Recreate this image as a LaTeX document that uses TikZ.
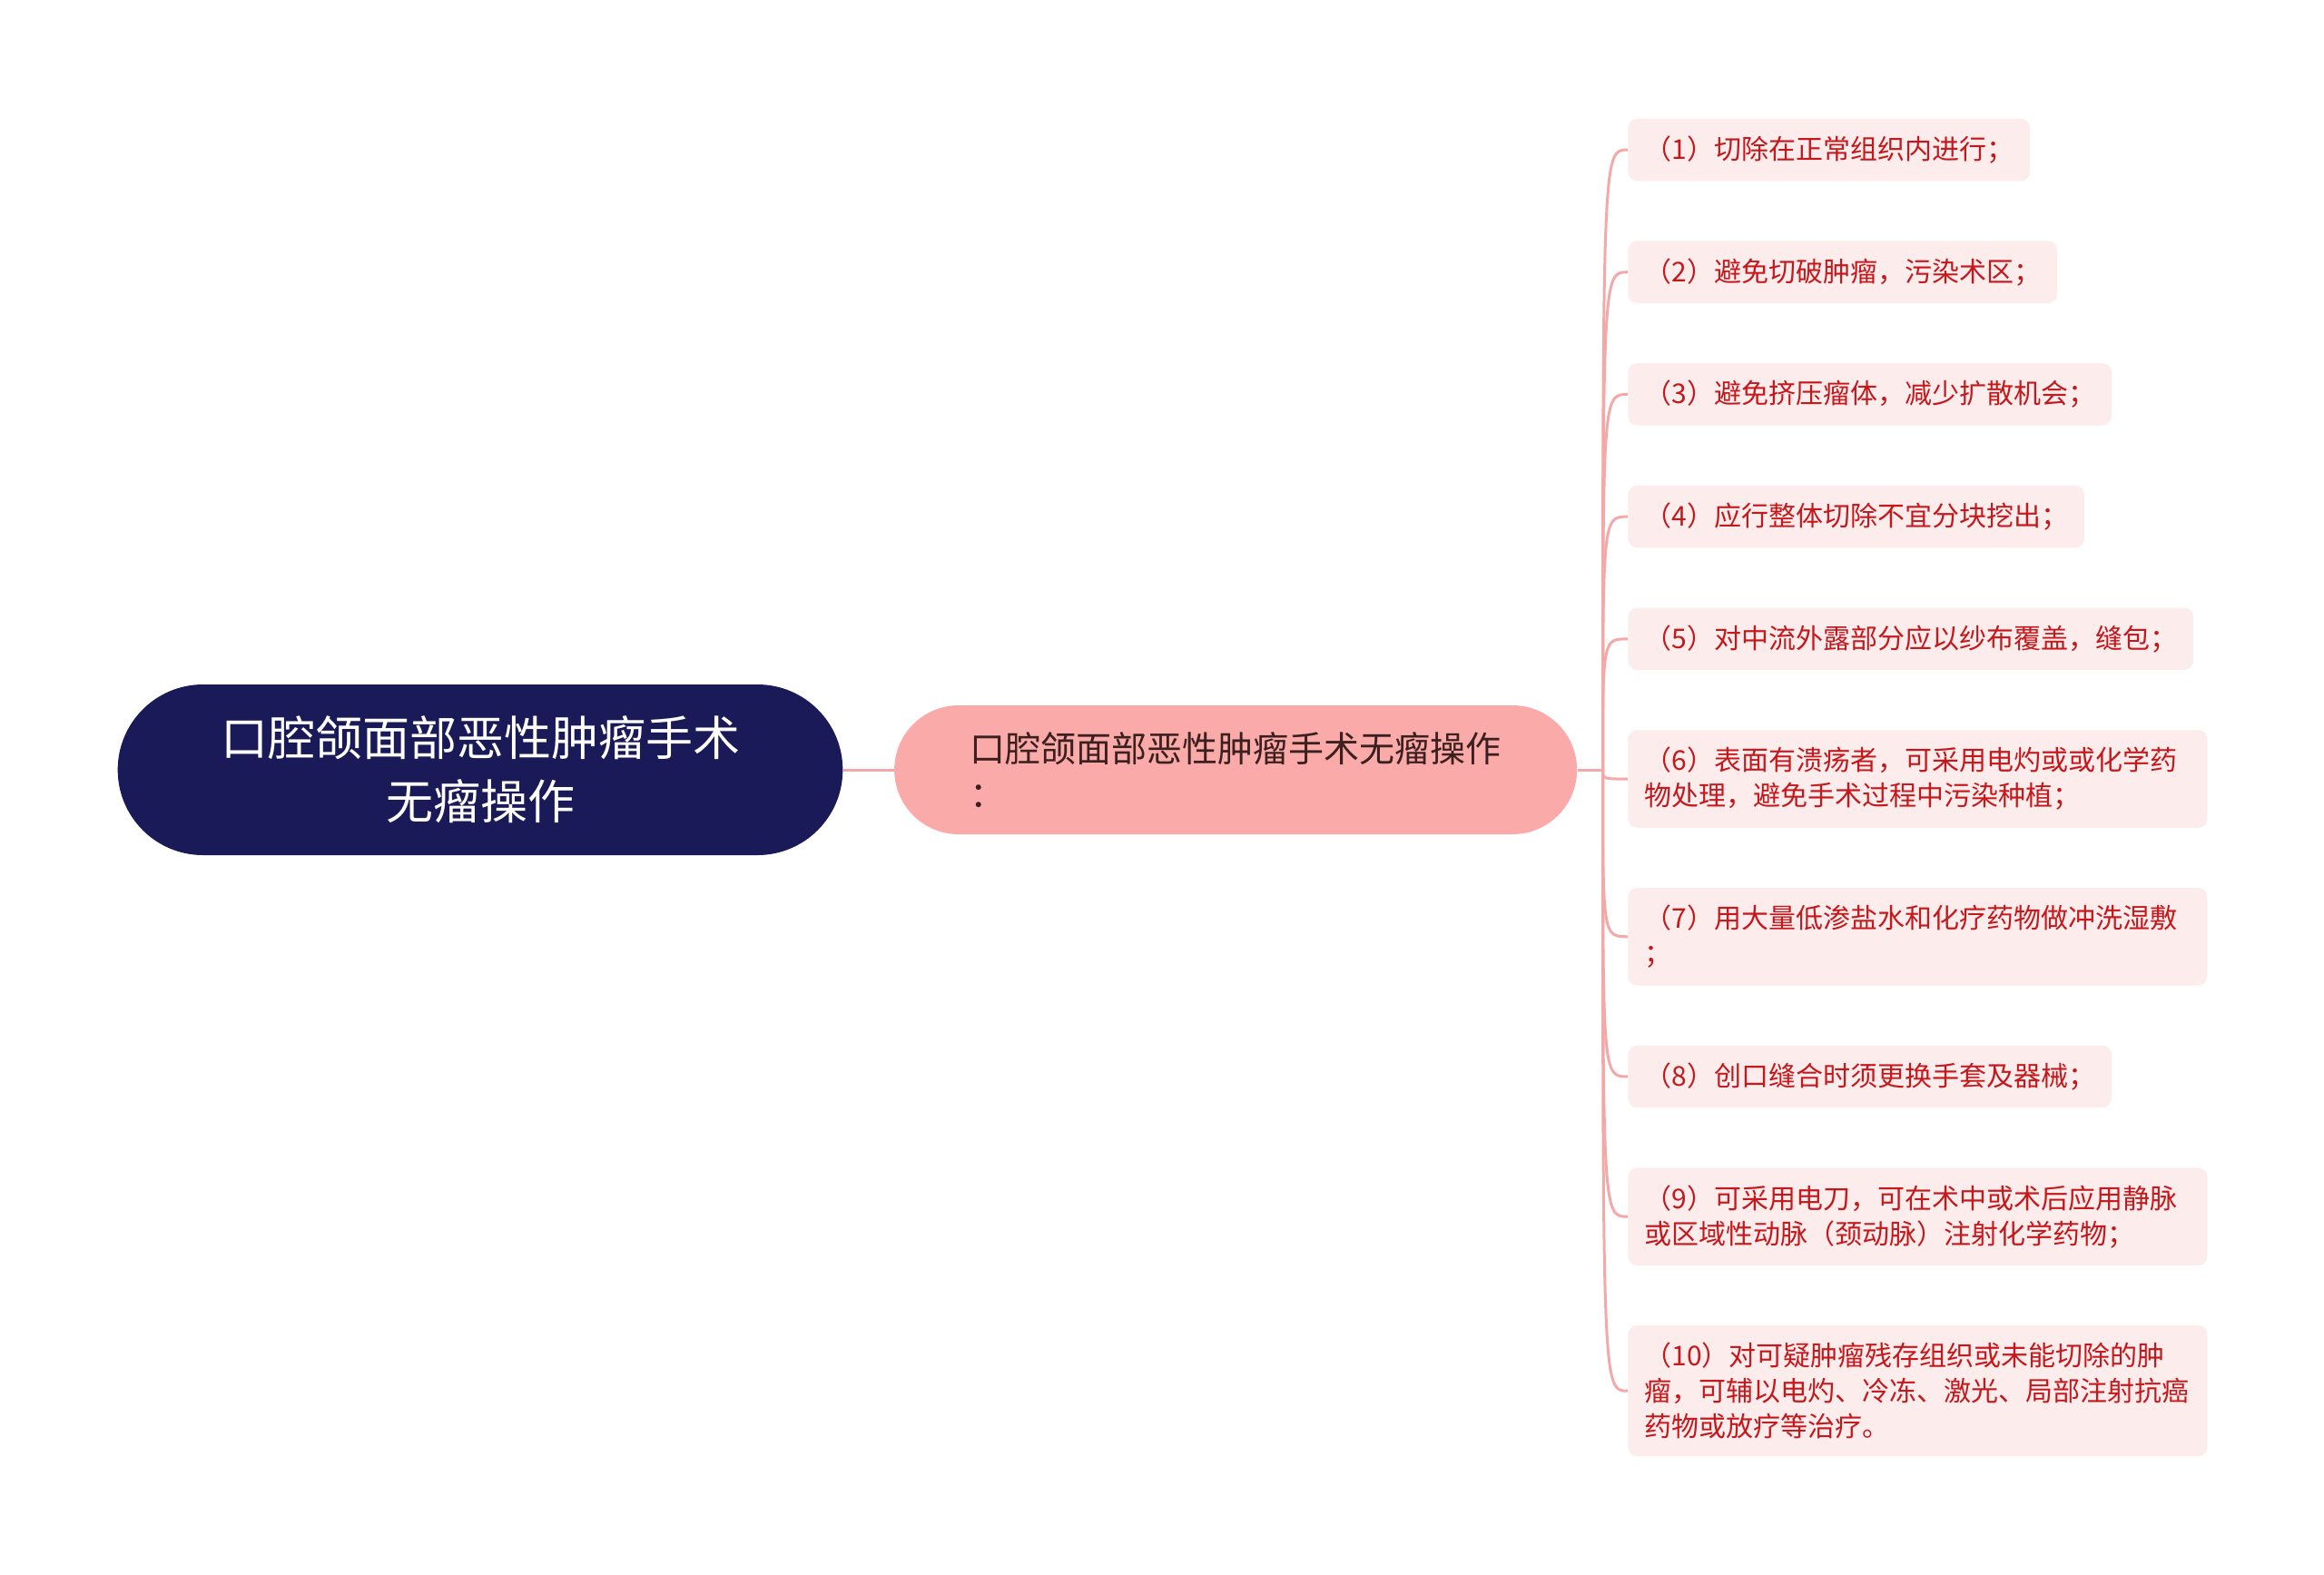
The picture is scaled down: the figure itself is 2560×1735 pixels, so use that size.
\documentclass[tikz,border=0pt]{standalone}
\usepackage{fontspec}
\setmainfont{Noto Sans CJK SC}
\usetikzlibrary{positioning,shapes.misc}

\definecolor{rootblue}{RGB}{27,26,88}
\definecolor{topicpink}{RGB}{250,170,168}
\definecolor{topictext}{RGB}{60,32,32}
\definecolor{leafpink}{RGB}{253,236,236}
\definecolor{leafred}{RGB}{196,24,28}
\definecolor{edgepink}{RGB}{245,168,168}

\tikzset{
  root/.style={rounded rectangle, fill=rootblue, text=white, minimum width=406pt,
    minimum height=94pt, align=center, font=\fontsize{26pt}{35pt}\selectfont},
  topic/.style={rounded rectangle, fill=topicpink, text=topictext, minimum width=376pt,
    minimum height=71pt, inner xsep=0pt, text width=293pt, align=left,
    font=\fontsize{19.5pt}{25pt}\selectfont},
  leaf/.style={rectangle, rounded corners=5pt, fill=leafpink, text=leafred,
    inner xsep=9pt, inner ysep=9.5pt, font=\fontsize{15pt}{19.5pt}\selectfont},
  longleaf/.style={leaf, text width=301pt, align=left},
  edge/.style={draw=edgepink, line width=1.5pt},
}

\begin{document}
\begin{tikzpicture}[x=0.5pt, y=-0.5pt]
    \useasboundingbox (0,0) rectangle (2560,1735);

    % Nodes
    \node[root] (root) at (529,848) {口腔颌面部恶性肿瘤手术\\无瘤操作};
    \node[topic, right=28pt of root] (topic) {口腔颌面部恶性肿瘤手术无瘤操作\\：};
    \coordinate[right=14pt of topic.east] (hub);

    \node[leaf, anchor=west] (L1) at (1793,165) {（1）切除在正常组织内进行；};
    \node[leaf, below=32.7pt of L1.south west, anchor=north west] (L2) {（2）避免切破肿瘤，污染术区；};
    \node[leaf, below=32.7pt of L2.south west, anchor=north west] (L3) {（3）避免挤压瘤体，减少扩散机会；};
    \node[leaf, below=32.7pt of L3.south west, anchor=north west] (L4) {（4）应行整体切除不宜分块挖出；};
    \node[leaf, below=32.7pt of L4.south west, anchor=north west] (L5) {（5）对中流外露部分应以纱布覆盖，缝包；};
    \node[longleaf, below=32.7pt of L5.south west, anchor=north west] (L6) {（6）表面有溃疡者，可采用电灼或或化学药\\物处理，避免手术过程中污染种植；};
    \node[longleaf, below=32.7pt of L6.south west, anchor=north west] (L7) {（7）用大量低渗盐水和化疗药物做冲洗湿敷\\；};
    \node[leaf, below=32.7pt of L7.south west, anchor=north west] (L8) {（8）创口缝合时须更换手套及器械；};
    \node[longleaf, below=32.7pt of L8.south west, anchor=north west] (L9) {（9）可采用电刀，可在术中或术后应用静脉\\或区域性动脉（颈动脉）注射化学药物；};
    \node[longleaf, below=32.7pt of L9.south west, anchor=north west] (L10) {（10）对可疑肿瘤残存组织或未能切除的肿\\瘤，可辅以电灼、冷冻、激光、局部注射抗癌\\药物或放疗等治疗。};

    % Edges
    \draw[edge] (root.east) -- (topic.west);
    \draw[edge] (topic.east) -- (hub);
    \foreach \i in {1,...,10} \draw[edge] (hub) .. controls (hub |- L\i.west) .. (L\i.west);
\end{tikzpicture}
\end{document}
